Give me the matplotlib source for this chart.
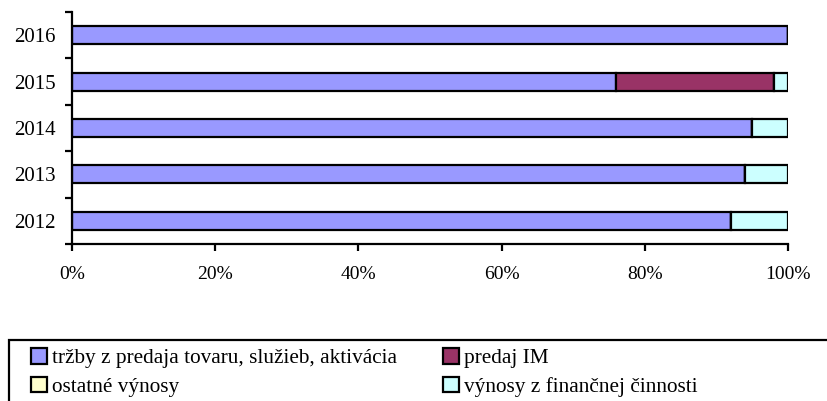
import numpy as np
import matplotlib.pyplot as plt
from matplotlib.ticker import PercentFormatter
from matplotlib.patches import Rectangle

years = ['2012', '2013', '2014', '2015', '2016']
trzby = [92, 94, 95, 76, 100]
predaj_im = [0, 0, 0, 22, 0]
ostatne = [0, 0, 0, 0, 0]
financne = [8, 6, 5, 2, 0]

labels = ['tržby z predaja tovaru, služieb, aktivácia', 'predaj IM',
          'ostatné výnosy', 'výnosy z finančnej činnosti']
colors = ['#9999FF', '#993366', '#FFFFCC', '#CCFFFF']

plt.rcParams['font.family'] = ['Liberation Serif', 'DejaVu Serif']

W, H = 828, 401
fig = plt.figure(figsize=(W / 100, H / 100), dpi=100)
ax = fig.add_axes([72 / W, 1 - 244 / H, (788 - 72) / W, (244 - 12) / H])

y = np.arange(len(years))
left = np.zeros(len(years))
handles = []
for vals, lab, col in zip([trzby, predaj_im, ostatne, financne], labels, colors):
    vals = np.array(vals, dtype=float)
    b = ax.barh(y, vals, left=left, height=0.39, color=col, edgecolor='black',
                linewidth=1.6, label=lab)
    handles.append(b)
    left += vals

ax.set_xlim(0, 100)
ax.set_ylim(-0.5, 4.5)
ax.set_yticks(y)
ax.set_yticklabels(years, fontsize=15)
ax.set_yticks(np.arange(-0.5, 5, 1), minor=True)
ax.tick_params(axis='y', which='major', length=0, pad=12)
ax.tick_params(axis='y', which='minor', length=5, width=1.6)
ax.set_xticks(np.arange(0, 101, 20))
ax.xaxis.set_major_formatter(PercentFormatter(decimals=0))
ax.tick_params(axis='x', length=5, width=1.6, pad=11, labelsize=14)
for s in ['top', 'right']:
    ax.spines[s].set_visible(False)
for s in ['left', 'bottom']:
    ax.spines[s].set_linewidth(1.6)

# legend, row-major order like the original
order = [0, 2, 1, 3]
leg = fig.legend([handles[i] for i in order], [labels[i] for i in order],
                 loc='upper left', bbox_to_anchor=(31 / W, 1 - 348 / H),
                 ncol=2, frameon=False, handlelength=0.75, handleheight=0.75,
                 handletextpad=0.25, borderaxespad=0, borderpad=0,
                 fontsize=15.3, labelspacing=0.4, columnspacing=2.15)
for h in leg.legend_handles:
    h.set_linewidth(1.6)

fig.patches.append(Rectangle((9 / W, -0.1), 1.0, 0.1 + (H - 340) / H,
                             transform=fig.transFigure, fill=False,
                             edgecolor='black', linewidth=1.6, clip_on=False))

fig.savefig('out.png', dpi=100)
